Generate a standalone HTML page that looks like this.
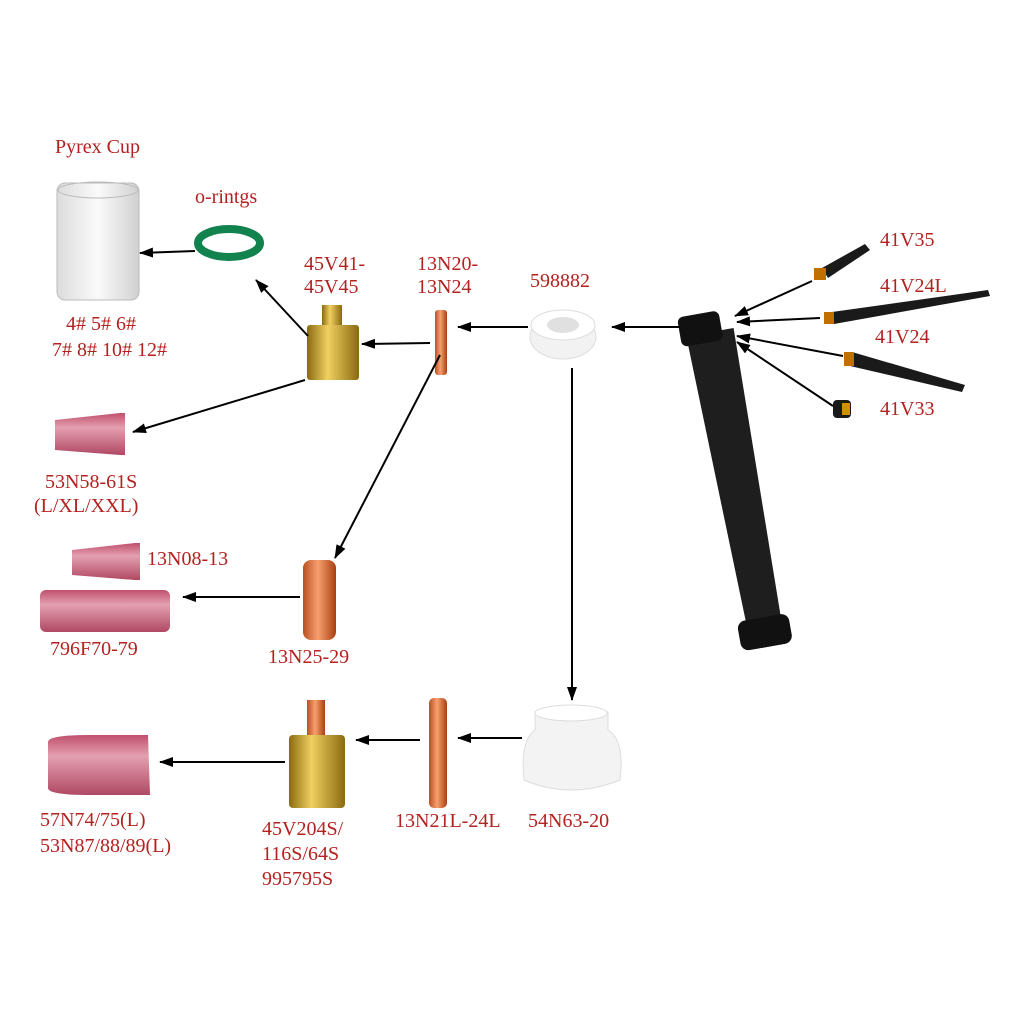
<!DOCTYPE html>
<html><head><meta charset="utf-8"><style>
html,body{margin:0;padding:0;background:#fff}
svg{display:block}
text{font-family:"Liberation Serif",serif;font-size:20px;fill:#b3221f}
</style></head><body>
<svg width="1024" height="1024" viewBox="0 0 1024 1024" xmlns="http://www.w3.org/2000/svg">
<defs>
<marker id="a" markerWidth="14" markerHeight="10" refX="13" refY="5" orient="auto" markerUnits="userSpaceOnUse"><path d="M0,0 L14,5 L0,10 Z" fill="#000"/></marker>
<linearGradient id="brass" x1="0" x2="1"><stop offset="0" stop-color="#8a6a10"/><stop offset=".4" stop-color="#f0d060"/><stop offset="1" stop-color="#8a6a10"/></linearGradient>
<linearGradient id="cu" x1="0" x2="1"><stop offset="0" stop-color="#b85020"/><stop offset=".45" stop-color="#f8a070"/><stop offset="1" stop-color="#a84010"/></linearGradient>
<linearGradient id="pink" x1="0" y1="0" x2="0" y2="1"><stop offset="0" stop-color="#c0506e"/><stop offset=".35" stop-color="#e4a0b0"/><stop offset="1" stop-color="#b04864"/></linearGradient>
<linearGradient id="glass" x1="0" x2="1"><stop offset="0" stop-color="#dcdcdc"/><stop offset=".5" stop-color="#fafafa"/><stop offset="1" stop-color="#d0d0d0"/></linearGradient>
</defs>
<rect x="57" y="183" width="82" height="117" rx="8" fill="url(#glass)" stroke="#bbb"/>
<ellipse cx="98" cy="190" rx="40" ry="8" fill="none" stroke="#bbb"/>
<ellipse cx="229" cy="243" rx="31" ry="14" fill="none" stroke="#12824f" stroke-width="8"/>
<rect x="322" y="305" width="20" height="22" fill="url(#brass)"/>
<rect x="307" y="325" width="52" height="55" rx="3" fill="url(#brass)"/>
<rect x="435" y="310" width="12" height="65" rx="3" fill="url(#cu)"/>
<ellipse cx="563" cy="337" rx="33" ry="22" fill="#f2f2f2" stroke="#ddd"/>
<ellipse cx="563" cy="325" rx="32" ry="15" fill="#fff" stroke="#ddd"/>
<ellipse cx="563" cy="325" rx="16" ry="8" fill="#e0e0e0"/>
<g transform="rotate(-10 735 480)">
<path d="M712,330 L760,330 L756,650 L722,650 Z" fill="#1e1e1e"/>
<rect x="706" y="310" width="42" height="30" rx="6" fill="#111"/>
<rect x="712" y="620" width="52" height="30" rx="8" fill="#111"/>
</g>
<polygon points="822,268 865,244 870,250 828,278" fill="#1a1a1a"/>
<rect x="814" y="268" width="12" height="12" fill="#c07000"/>
<polygon points="832,312 988,290 990,296 834,324" fill="#1a1a1a"/>
<rect x="824" y="312" width="10" height="12" fill="#c07000"/>
<polygon points="852,352 965,385 962,392 850,366" fill="#1a1a1a"/>
<rect x="844" y="352" width="10" height="14" fill="#c07000"/>
<rect x="833" y="400" width="18" height="18" rx="4" fill="#1a1a1a"/>
<rect x="842" y="403" width="8" height="12" fill="#d09000"/>
<path d="M55,420 L120,413 L125,413 L125,455 L120,455 L55,450 Z" fill="url(#pink)"/>
<path d="M72,550 L135,543 L140,543 L140,580 L135,580 L72,575 Z" fill="url(#pink)"/>
<rect x="40" y="590" width="130" height="42" rx="6" fill="url(#pink)"/>
<rect x="303" y="560" width="33" height="80" rx="8" fill="url(#cu)"/>
<path d="M48,742 Q48,735 90,735 L148,735 L150,795 L90,795 Q48,795 48,788 Z" fill="url(#pink)"/>
<rect x="307" y="700" width="18" height="38" fill="url(#cu)"/>
<rect x="289" y="735" width="56" height="73" rx="4" fill="url(#brass)"/>
<rect x="429" y="698" width="18" height="110" rx="5" fill="url(#cu)"/>
<path d="M535,730 L535,712 Q570,705 608,712 L608,730 Q625,740 620,780 Q570,800 524,780 Q520,740 535,730 Z" fill="#f3f3f3" stroke="#ddd"/>
<ellipse cx="571" cy="713" rx="36" ry="8" fill="#fff" stroke="#ddd"/>
<g stroke="#000" stroke-width="2" fill="none" marker-end="url(#a)">
<line x1="195" y1="251" x2="140" y2="253"/>
<line x1="308" y1="336" x2="256" y2="280"/>
<line x1="430" y1="343" x2="362" y2="344"/>
<line x1="528" y1="327" x2="458" y2="327"/>
<line x1="680" y1="327" x2="612" y2="327"/>
<line x1="305" y1="380" x2="133" y2="432"/>
<line x1="440" y1="355" x2="335" y2="558"/>
<line x1="300" y1="597" x2="183" y2="597"/>
<line x1="572" y1="368" x2="572" y2="700"/>
<line x1="522" y1="738" x2="458" y2="738"/>
<line x1="420" y1="740" x2="356" y2="740"/>
<line x1="285" y1="762" x2="160" y2="762"/>
<line x1="812" y1="281" x2="735" y2="316"/>
<line x1="820" y1="318" x2="737" y2="322"/>
<line x1="843" y1="356" x2="737" y2="336"/>
<line x1="833" y1="406" x2="737" y2="342"/>
</g>
<text x="55" y="153">Pyrex Cup</text>
<text x="195" y="203">o-rintgs</text>
<text x="304" y="270">45V41-</text><text x="304" y="293">45V45</text>
<text x="417" y="270">13N20-</text><text x="417" y="293">13N24</text>
<text x="530" y="287">598882</text>
<text x="880" y="246">41V35</text>
<text x="880" y="292">41V24L</text>
<text x="875" y="343">41V24</text>
<text x="880" y="415">41V33</text>
<text x="66" y="330">4# 5# 6#</text>
<text x="52" y="356">7# 8# 10# 12#</text>
<text x="45" y="488">53N58-61S</text>
<text x="34" y="512">(L/XL/XXL)</text>
<text x="147" y="565">13N08-13</text>
<text x="50" y="655">796F70-79</text>
<text x="268" y="663">13N25-29</text>
<text x="40" y="826">57N74/75(L)</text>
<text x="40" y="852">53N87/88/89(L)</text>
<text x="262" y="835">45V204S/</text>
<text x="262" y="860">116S/64S</text>
<text x="262" y="885">995795S</text>
<text x="395" y="827">13N21L-24L</text>
<text x="528" y="827">54N63-20</text>
</svg>
</body></html>
